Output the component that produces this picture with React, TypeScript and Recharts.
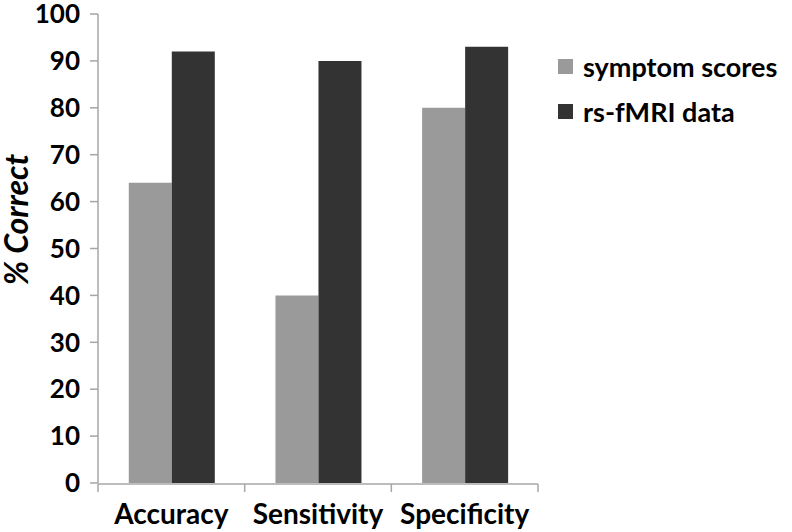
import { Bar, BarChart, Label, XAxis, YAxis } from "recharts";

const categories = ["Accuracy", "Sensitivity", "Specificity"];
const seriesNames = ["symptom scores", "rs-fMRI data"];
const symptomScores = [64, 40, 80];
const rsFmriData = [92, 90, 93];
const yTicks = [0, 10, 20, 30, 40, 50, 60, 70, 80, 90, 100];

const COLORS = {
  symptom: "#9a9a9a",
  fmri: "#333333",
  axis: "#a6a6a6",
};

const FONT = "Lato, 'Open Sans', sans-serif";

const data = categories.map((c, i) => ({
  name: c,
  symptom: symptomScores[i],
  fmri: rsFmriData[i],
}));

// boundaries between categories, in data-index space [0, n-1]
const n = categories.length;
const edgeTicks = Array.from({ length: n + 1 }, (_, i) => (i * (n - 1)) / n);

const legendItems = [
  { label: seriesNames[0], color: COLORS.symptom },
  { label: seriesNames[1], color: COLORS.fmri },
];

export default function App() {
  return (
    <div style={{ position: "absolute", left: 0, top: 0, width: 792, height: 532, background: "#fff" }}>
      <BarChart
        width={792}
        height={532}
        data={data}
        margin={{ top: 14, right: 254, left: 0, bottom: 0 }}
        barCategoryGap="21%"
        barGap={0}
      >
        <XAxis
          dataKey="name"
          height={1}
          axisLine={false}
          tickLine={false}
          tickSize={0}
          interval={0}
          tickMargin={21}
          tick={{ fontFamily: FONT, fontWeight: 700, fontSize: 28, fill: "#000" }}
        />
        <XAxis
          xAxisId="edges"
          type="number"
          domain={[0, n - 1]}
          allowDataOverflow
          ticks={edgeTicks}
          interval={0}
          height={48}
          tickSize={8}
          tickFormatter={() => ""}
          axisLine={{ stroke: COLORS.axis, strokeWidth: 1.5 }}
          tickLine={{ stroke: COLORS.axis, strokeWidth: 1.5 }}
        />
        <YAxis
          width={98}
          domain={[0, 100]}
          ticks={yTicks}
          interval={0}
          tickSize={8}
          tickMargin={10}
          axisLine={{ stroke: COLORS.axis, strokeWidth: 1.5 }}
          tickLine={{ stroke: COLORS.axis, strokeWidth: 1.5 }}
          tick={{ fontFamily: FONT, fontWeight: 700, fontSize: 26, fill: "#000" }}
        >
          <Label
            content={({ viewBox }: any) => {
              const cy = viewBox.y + viewBox.height / 2 - 29;
              return (
                <text
                  x={28}
                  y={cy}
                  transform={`rotate(-90, 28, ${cy})`}
                  textAnchor="middle"
                  fontFamily={FONT}
                  fontWeight={700}
                  fontStyle="italic"
                  fontSize={32}
                  fill="#000"
                >
                  % Correct
                </text>
              );
            }}
          />
        </YAxis>
        <Bar dataKey="symptom" name={seriesNames[0]} fill={COLORS.symptom} isAnimationActive={false} />
        <Bar dataKey="fmri" name={seriesNames[1]} fill={COLORS.fmri} isAnimationActive={false} />
      </BarChart>
      <div
        style={{
          position: "absolute",
          left: 558,
          top: 44,
          fontFamily: FONT,
          fontWeight: 700,
          fontSize: 27,
          color: "#000",
        }}
      >
        {legendItems.map((it) => (
          <div key={it.label} style={{ display: "flex", alignItems: "center", height: 45 }}>
            <span
              style={{
                display: "inline-block",
                width: 15,
                height: 15,
                background: it.color,
                marginRight: 10,
              }}
            />
            {it.label}
          </div>
        ))}
      </div>
    </div>
  );
}
